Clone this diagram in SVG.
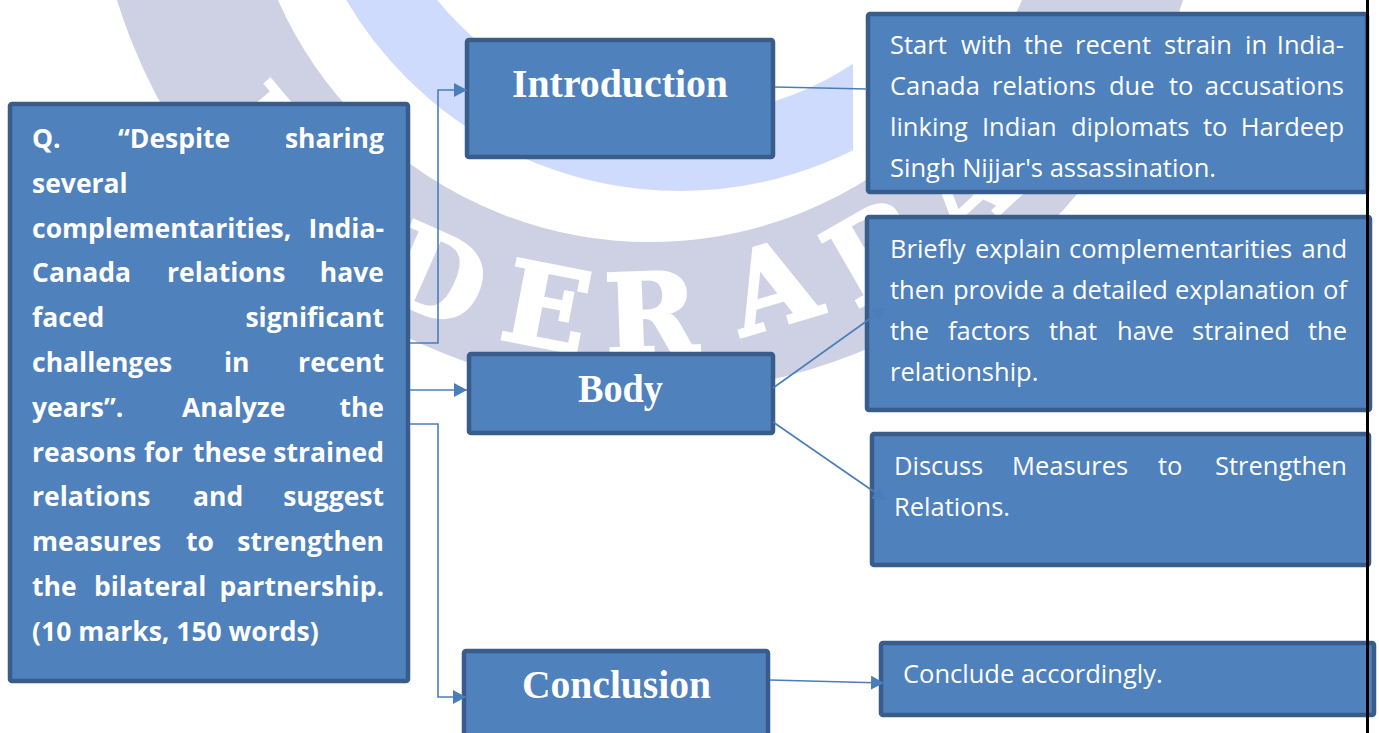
<svg xmlns="http://www.w3.org/2000/svg" width="1379" height="733" viewBox="0 0 1379 733">
<style>
.box{fill:#4f81bd;stroke:#385d8a;stroke-width:4.5}
.q{font-family:"Open Sans",sans-serif;font-weight:700;font-size:26.5px;fill:#fff}
.t{font-family:"Open Sans",sans-serif;font-size:25.5px;fill:#fff}
.h{font-family:"Liberation Serif",serif;font-weight:700;font-size:40px;fill:#fff}
.e{text-anchor:end}
.wm{font-family:"DejaVu Serif",serif;font-weight:700;font-size:112px;fill:#fff;stroke:#fff;stroke-width:3;text-anchor:middle}
.con{fill:none;stroke:#4a7ebb;stroke-width:1.6}
</style>
<defs>
<marker id="arr" markerUnits="userSpaceOnUse" markerWidth="14" markerHeight="14" refX="13" refY="7" orient="auto">
<path d="M0,0 L13,7 L0,14 z" fill="#4a7ebb"/>
</marker>
<clipPath id="clipL"><rect x="0" y="0" width="853" height="733"/></clipPath>
</defs>
<rect width="1379" height="733" fill="#fff"/>
<g id="watermark">
<circle cx="650" cy="-165" r="482.5" fill="none" stroke="#ced1e4" stroke-width="151"/>
<circle cx="680" cy="-196" r="349.5" fill="none" stroke="#cfdbfc" stroke-width="75" clip-path="url(#clipL)"/>
<text class="wm" transform="translate(270,142) rotate(50)" y="41">H</text>
<text class="wm" transform="translate(437,275) rotate(24)" y="41">D</text>
<text class="wm" transform="translate(547,306) rotate(11)" y="41">E</text>
<text class="wm" transform="translate(651,313) rotate(-2)" y="41">R</text>
<text class="wm" transform="translate(772,285) rotate(-16.5)" y="41">A</text>
<text class="wm" transform="translate(876,250) rotate(-30)" y="41">B</text>
<text class="wm" transform="translate(965,190) rotate(-43)" y="41">A</text>
</g>
<g id="question">
<rect class="box" x="10" y="104" width="398" height="577" rx="2"/>
<text class="q" y="148"><tspan x="32">Q.</tspan><tspan x="118">“Despite</tspan></text><text class="q e" x="384" y="148">sharing</text>
<text class="q" x="32" y="193">several</text>
<text class="q" x="32" y="238">complementarities,</text><text class="q e" x="384" y="238">India-</text>
<text class="q" y="282"><tspan x="32">Canada</tspan><tspan x="167">relations</tspan></text><text class="q e" x="384" y="282">have</text>
<text class="q" x="32" y="327">faced</text><text class="q e" x="384" y="327">significant</text>
<text class="q" y="372"><tspan x="32">challenges</tspan><tspan x="224">in</tspan></text><text class="q e" x="384" y="372">recent</text>
<text class="q" y="417"><tspan x="32">years”.</tspan><tspan x="182">Analyze</tspan></text><text class="q e" x="384" y="417">the</text>
<text class="q" y="462"><tspan x="32">reasons</tspan><tspan x="144">for</tspan><tspan x="193">these</tspan></text><text class="q e" x="384" y="462">strained</text>
<text class="q" y="506"><tspan x="32">relations</tspan><tspan x="193">and</tspan></text><text class="q e" x="384" y="506">suggest</text>
<text class="q" y="551"><tspan x="32">measures</tspan><tspan x="186">to</tspan></text><text class="q e" x="384" y="551">strengthen</text>
<text class="q" y="596"><tspan x="32">the</tspan><tspan x="94">bilateral</tspan></text><text class="q e" x="384" y="596">partnership.</text>
<text class="q" x="32" y="641">(10 marks, 150 words)</text>
</g>
<g id="introduction">
<rect class="box" x="467" y="40" width="306" height="117" rx="2"/>
<text class="h" x="512" y="97" textLength="216" lengthAdjust="spacingAndGlyphs">Introduction</text>
</g>
<g id="body">
<rect class="box" x="469" y="354" width="304" height="79" rx="2"/>
<text class="h" x="578" y="402" textLength="85" lengthAdjust="spacingAndGlyphs">Body</text>
</g>
<g id="conclusion">
<rect class="box" x="464" y="651" width="304" height="100" rx="2"/>
<text class="h" x="522" y="698" textLength="189" lengthAdjust="spacingAndGlyphs">Conclusion</text>
</g>
<g id="intro-detail">
<rect class="box" x="868" y="14" width="499" height="178" rx="2"/>
<text class="t" y="54"><tspan x="890">Start</tspan><tspan x="961">with</tspan><tspan x="1024">the</tspan><tspan x="1075">recent</tspan><tspan x="1164">strain</tspan><tspan x="1245">in</tspan></text><text class="t e" x="1344" y="54">India-</text>
<text class="t" y="95"><tspan x="890">Canada</tspan><tspan x="992">relations</tspan><tspan x="1109">due</tspan><tspan x="1169">to</tspan></text><text class="t e" x="1344" y="95">accusations</text>
<text class="t" y="136"><tspan x="890">linking</tspan><tspan x="982">Indian</tspan><tspan x="1071">diplomats</tspan><tspan x="1203">to</tspan></text><text class="t e" x="1344" y="136">Hardeep</text>
<text class="t" x="890" y="177">Singh Nijjar's assassination.</text>
</g>
<g id="body-detail-1">
<rect class="box" x="867" y="217" width="503" height="193" rx="2"/>
<text class="t" y="258"><tspan x="890">Briefly</tspan><tspan x="975">explain</tspan><tspan x="1069">complementarities</tspan></text><text class="t e" x="1347" y="258">and</text>
<text class="t" y="299"><tspan x="890">then</tspan><tspan x="953">provide</tspan><tspan x="1051">a</tspan><tspan x="1072">detailed</tspan><tspan x="1175">explanation</tspan></text><text class="t e" x="1347" y="299">of</text>
<text class="t" y="340"><tspan x="890">the</tspan><tspan x="948">factors</tspan><tspan x="1049">that</tspan><tspan x="1117">have</tspan><tspan x="1192">strained</tspan></text><text class="t e" x="1347" y="340">the</text>
<text class="t" x="890" y="381">relationship.</text>
</g>
<g id="body-detail-2">
<rect class="box" x="872" y="434" width="497" height="131" rx="2"/>
<text class="t" y="475"><tspan x="894">Discuss</tspan><tspan x="1012">Measures</tspan><tspan x="1158">to</tspan></text><text class="t e" x="1347" y="475">Strengthen</text>
<text class="t" x="894" y="516">Relations.</text>
</g>
<g id="conclusion-detail">
<rect class="box" x="881" y="643" width="493" height="72" rx="2"/>
<text class="t" x="903" y="683">Conclude accordingly.</text>
</g>
<g id="connectors">
<polyline class="con" points="410,343 438,343 438,90 467,90" marker-end="url(#arr)"/>
<line class="con" x1="410" y1="390" x2="467" y2="390" marker-end="url(#arr)"/>
<polyline class="con" points="410,424 438,424 438,697 466,697" marker-end="url(#arr)"/>
<line class="con" x1="775" y1="87" x2="867" y2="89"/>
<line class="con" x1="773" y1="388" x2="885" y2="308" marker-end="url(#arr)"/>
<line class="con" x1="773" y1="422" x2="886" y2="500" marker-end="url(#arr)"/>
<line class="con" x1="770" y1="680" x2="884" y2="683" marker-end="url(#arr)"/>
</g>
<line x1="1367.5" y1="0" x2="1367.5" y2="733" stroke="#000" stroke-width="3"/>
</svg>
